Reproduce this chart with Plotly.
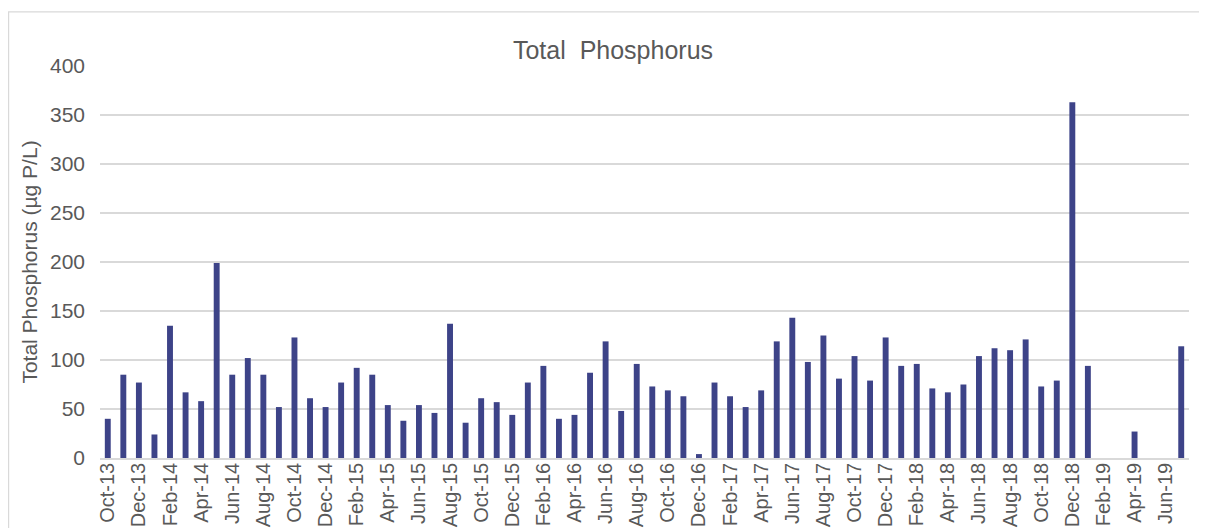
import plotly.graph_objects as go

months = ["Oct-13", "Nov-13", "Dec-13",
          "Jan-14", "Feb-14", "Mar-14", "Apr-14", "May-14", "Jun-14", "Jul-14", "Aug-14", "Sep-14", "Oct-14", "Nov-14", "Dec-14",
          "Jan-15", "Feb-15", "Mar-15", "Apr-15", "May-15", "Jun-15", "Jul-15", "Aug-15", "Sep-15", "Oct-15", "Nov-15", "Dec-15",
          "Jan-16", "Feb-16", "Mar-16", "Apr-16", "May-16", "Jun-16", "Jul-16", "Aug-16", "Sep-16", "Oct-16", "Nov-16", "Dec-16",
          "Jan-17", "Feb-17", "Mar-17", "Apr-17", "May-17", "Jun-17", "Jul-17", "Aug-17", "Sep-17", "Oct-17", "Nov-17", "Dec-17",
          "Jan-18", "Feb-18", "Mar-18", "Apr-18", "May-18", "Jun-18", "Jul-18", "Aug-18", "Sep-18", "Oct-18", "Nov-18", "Dec-18",
          "Jan-19", "Feb-19", "Mar-19", "Apr-19", "May-19", "Jun-19", "Jul-19"]

tp = [40, 85, 77,
      24, 135, 67, 58, 199, 85, 102, 85, 52, 123, 61, 52,
      77, 92, 85, 54, 38, 54, 46, 137, 36, 61, 57, 44,
      77, 94, 40, 44, 87, 119, 48, 96, 73, 69, 63, 4,
      77, 63, 52, 69, 119, 143, 98, 125, 81, 104, 79, 123,
      94, 96, 71, 67, 75, 104, 112, 110, 121, 73, 79, 363,
      94, None, None, 27, None, None, 114]

tick_labels = months[::2]

fig = go.Figure()
fig.add_trace(go.Bar(x=months, y=tp, marker=dict(color="#3d4388", line=dict(width=0)),
                     name="Total Phosphorus"))

font_color = "#595959"
fig.update_layout(
    width=1199, height=520,
    margin=dict(l=92, r=18, t=58, b=70),
    paper_bgcolor="white", plot_bgcolor="white",
    font=dict(family="Liberation Sans, Arial, sans-serif", size=21, color=font_color),
    showlegend=False,
    bargap=0.62,
    title=dict(text="Total  Phosphorus", x=605 / 1199, xref="container", y=1 - 42 / 520,
               yref="container", xanchor="center", yanchor="middle",
               font=dict(size=25, color=font_color)),
    xaxis=dict(type="category", categoryorder="array", categoryarray=months,
               tickmode="array", tickvals=tick_labels, ticktext=tick_labels,
               tickangle=-90, showgrid=False, showline=True, linecolor="#d9d9d9",
               linewidth=1.5, ticks="", ticklabelstandoff=-5, automargin=False,
               tickfont=dict(size=20, color=font_color)),
    yaxis=dict(range=[0, 400], dtick=50, showgrid=True, gridcolor="#d9d9d9",
               gridwidth=1.5, zeroline=False, showline=False, ticks="",
               ticklabelstandoff=14, automargin=False,
               tickfont=dict(size=21, color=font_color),
               title=dict(text="Total Phosphorus (µg P/L)", standoff=6,
                          font=dict(size=21, color=font_color))),
)

fig.add_shape(type="rect", xref="paper", yref="paper",
              x0=(8.6 - 100) / 1089, x1=(1212 - 100) / 1089,
              y0=(450 - 540) / 384, y1=(450 - 13) / 384,
              line=dict(color="#d9d9d9", width=1.2), fillcolor="rgba(0,0,0,0)", layer="below")

fig.write_html("out.html")
